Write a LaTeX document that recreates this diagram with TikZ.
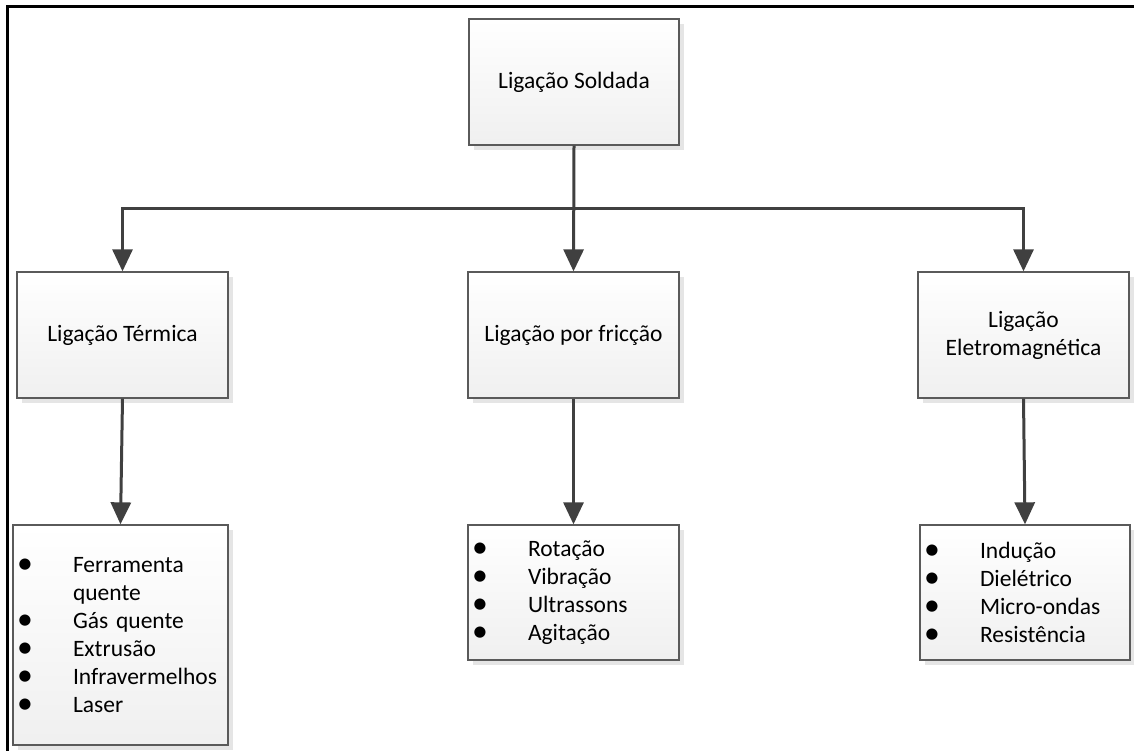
\documentclass[tikz,border=0pt]{standalone}
\usepackage{fontspec}
\setmainfont{Carlito}
\usetikzlibrary{arrows.meta,shadows}
\definecolor{linegrey}{HTML}{404040}
\definecolor{boxedge}{HTML}{5A5A5A}
\newcommand{\bul}{\makebox[56pt][l]{\smash{\raisebox{-1.2pt}{\scalebox{1.35}{\textbullet}}}}}
\newcommand{\ind}{\hspace*{56pt}}
\tikzset{
  box/.style={draw=boxedge, line width=1.3pt, top color=white, bottom color=black!6,
    drop shadow={shadow xshift=5pt, shadow yshift=-5pt, fill=black!10, opacity=1},
    inner sep=0pt, align=center, font=\fontsize{23.5}{28}\selectfont},
  listbox/.style={box, align=left, inner xsep=4pt},
  conn/.style={draw=linegrey, line width=3pt, line join=miter,
    -{Triangle[width=20pt,length=22pt]}, shorten >=0pt},
  frame/.style={line width=3pt, black}
}
\begin{document}
\begin{tikzpicture}[x=1pt,y=-1pt]
\useasboundingbox (0,0) rectangle (1134,751);
\draw[frame] (7.5,751) -- (7.5,6.5) -- (1134,6.5);
\node[box, minimum width=210pt, minimum height=126pt] (top) at (574,82) {Ligação Soldada};
\node[box, minimum width=211pt, minimum height=126pt] (term) at (122.5,335) {Ligação Térmica};
\node[box, minimum width=211pt, minimum height=126pt] (fric) at (573.5,335) {Ligação por fricção};
\node[box, minimum width=211pt, minimum height=126pt] (elec) at (1023.5,335) {Ligação\\Eletromagnética};
\node[listbox, minimum width=215pt, minimum height=220pt, text width=207pt] (lt) at (120.5,635)
  {\bul Ferramenta\\\ind quente\\\bul Gás quente\\\bul Extrusão\\\bul Infravermelhos\\\bul Laser};
\node[listbox, minimum width=211pt, minimum height=135pt, text width=203pt] (lf) at (573.5,592.5)
  {\bul Rotação\\\bul Vibração\\\bul Ultrassons\\\bul Agitação};
\node[listbox, minimum width=210pt, minimum height=135pt, text width=202pt] (le) at (1025,592.5)
  {\bul Indução\\\bul Dielétrico\\\bul Micro-ondas\\\bul Resistência};
\coordinate (bus) at (0,209);
\draw[conn] (top.south) -- (fric.north);
\draw[conn] (top.south |- bus) -| (term.north);
\draw[conn] (top.south |- bus) -| (elec.north);
\draw[conn] (term.south) -- (lt.north);
\draw[conn] (fric.south) -- (lf.north);
\draw[conn] (elec.south) -- (le.north);
\end{tikzpicture}
\end{document}
